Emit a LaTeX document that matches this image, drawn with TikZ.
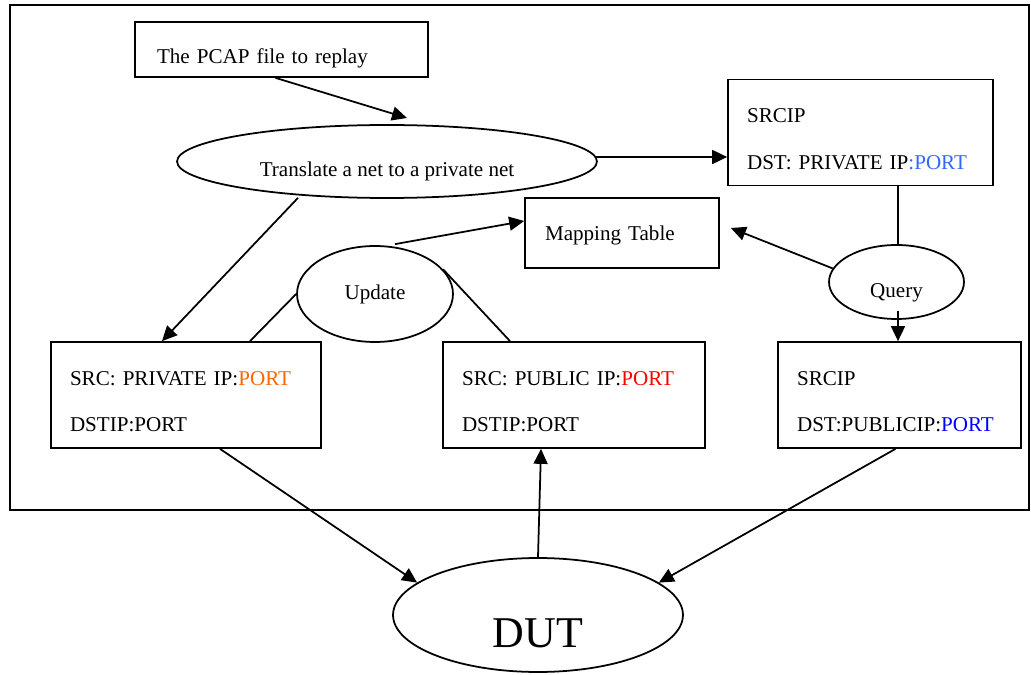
\documentclass[tikz,border=0pt]{standalone}
\usepackage{fontspec}
\setmainfont{Liberation Serif}
\usetikzlibrary{arrows.meta,shapes.geometric}
\definecolor{portorange}{RGB}{255,102,0}
\definecolor{portsky}{RGB}{51,102,255}
\definecolor{portblue}{RGB}{0,0,255}
\definecolor{portred}{RGB}{255,0,0}
\newcommand\padtop[1]{\rule{0pt}{#1}}

\begin{document}
\begin{tikzpicture}[x=0.02cm, y=-0.02cm, >={Triangle[length=0.3cm,width=0.28cm]},
  box/.style={draw,line width=1pt,align=left,inner xsep=0.38cm,text width=#1,minimum height=2.12cm},
  oval/.style={draw,ellipse,line width=1pt,inner sep=0pt,align=center},
  arr/.style={->,line width=1pt},
  link/.style={line width=1pt},
  every node/.style={font=\fontsize{12}{14.4}\selectfont}]
\useasboundingbox (0,0) rectangle (1031,675);
\draw[link] (10,5) rectangle (1029,510);
% top row
\node[box=4.98cm,inner xsep=0.44cm,minimum height=1.1cm] (pcap) at (281.5,49.5) {\padtop{18pt}The PCAP file to replay};
\node[oval,minimum width=8.4cm,minimum height=1.46cm,text height=20pt] (xlate) at (387,161.5) {Translate a net to a private net};
\node[box=4.54cm] (privbox) at (860.5,132.5) {\padtop{15.5pt}SRCIP\\[12.2pt]DST: PRIVATE IP\textcolor{portsky}{:PORT}};
\coordinate (xlatein) at (407,118);
% middle row
\node[box=3.08cm,inner xsep=0.4cm,minimum height=1.4cm] (maptab) at (622,233) {\padtop{11.5pt}Mapping Table};
\node[oval,minimum width=3.12cm,minimum height=1.92cm] (update) at (375,294) {Update};
\node[oval,minimum width=2.7cm,minimum height=1.48cm,text height=20.8pt] (query) at (896.5,282) {Query};
% bottom row
\node[box=4.64cm] (srcpriv) at (186,395) {\padtop{15.5pt}SRC: PRIVATE IP:\textcolor{portorange}{PORT}\\[12.2pt]DSTIP:PORT};
\node[box=4.48cm] (srcpub) at (574,395) {\padtop{15.5pt}SRC: PUBLIC IP:\textcolor{portred}{PORT}\\[12.2pt]DSTIP:PORT};
\node[box=4.1cm] (dstpub) at (899.5,395) {\padtop{15.5pt}SRCIP\\[12.2pt]DST:PUBLICIP:\textcolor{portblue}{PORT}};
\node[oval,minimum width=5.8cm,minimum height=2.28cm,text height=37pt,font=\fontsize{25}{30}\selectfont] (dut) at (538,615) {DUT};
% connectors
\draw[arr] ([shift={(-6,0)}]pcap.south) -- (xlatein);
\draw[arr] ([shift={(-2,-4.5)}]xlate.east) -- ([shift={(0,24.5)}]privbox.west);
\draw[arr] ([shift={(-89,-1)}]xlate.south) -- ([shift={(-24,0)}]srcpriv.north);
\draw[arr] ([shift={(20,-1)}]update.north) -- ([shift={(0,-12)}]maptab.west);
\draw[link] ([shift={(64,0)}]srcpriv.north) -- (update.west);
\draw[link] (update.20) -- ([shift={(-64,0)}]srcpub.north);
\draw[link] ([shift={(1.5,0)}]query.north |- privbox.south) -- ([shift={(1.5,0)}]query.north);
\draw[arr] (query.168) -- ([shift={(11,-5)}]maptab.east);
\draw[arr] ([shift={(1.5,-9)}]query.south) -- ([shift={(1.5,0)}]query.south |- dstpub.north);
\draw[arr] ([shift={(34,0)}]srcpriv.south) -- (dut.165);
\draw[arr] (dut.north) -- ([shift={(-33,0)}]srcpub.south);
\draw[arr] ([shift={(-4,0)}]dstpub.south) -- (dut.15);
\end{tikzpicture}
\end{document}
